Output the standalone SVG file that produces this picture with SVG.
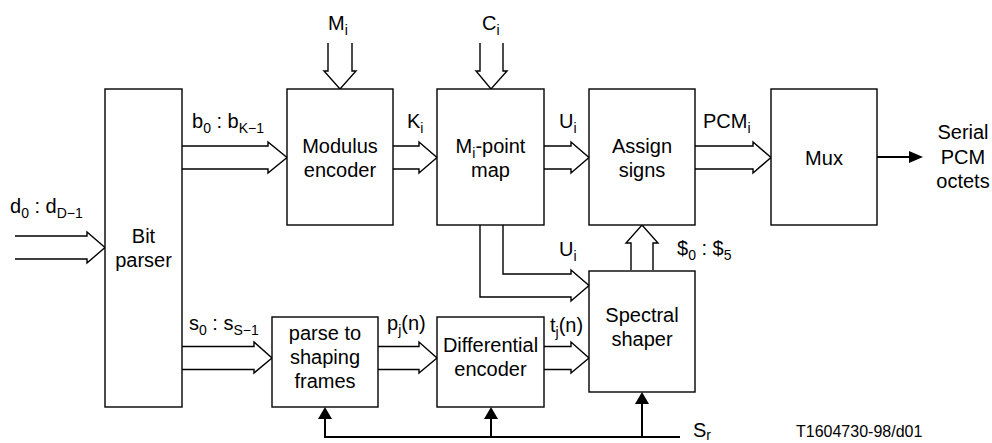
<svg xmlns="http://www.w3.org/2000/svg" width="992" height="443" viewBox="0 0 992 443">
<style>
  .box { fill: #fff; stroke: #000; stroke-width: 1.4; }
  .hol { fill: none; stroke: #000; stroke-width: 1.4; stroke-linejoin: miter; }
  .sol { fill: none; stroke: #000; stroke-width: 2; }
  .head { fill: #000; stroke: none; }
  text { font-family: "Liberation Sans", Arial, sans-serif; font-size: 20px; fill: #000; }
  .c { text-anchor: middle; }
  .sub { font-size: 14px; }
  .small { font-size: 16px; }
</style>
<rect width="992" height="443" fill="#fff"/>

<g id="connectors">
  <!-- input d -->
  <path class="hol" d="M15,236 H87 V232 L105,247.5 L87,263 V259 H15"/>
  <!-- b0 -->
  <path class="hol" d="M182,146 H268 V142 L287,157.5 L268,173 V169 H182"/>
  <!-- K -->
  <path class="hol" d="M393,146 H419 V142 L437,157.5 L419,173 V169 H393"/>
  <!-- U -->
  <path class="hol" d="M544,146 H571 V142 L589,157.5 L571,173 V169 H544"/>
  <!-- PCM -->
  <path class="hol" d="M695,146 H753 V142 L771,157.5 L753,173 V169 H695"/>
  <!-- Mi down -->
  <path class="hol" d="M328,43 V71 H324 L340,89 L356,71 H352 V43"/>
  <!-- Ci down -->
  <path class="hol" d="M480,43 V71 H476 L491,89 L507,71 H503 V43"/>
  <!-- Map to spectral shaper -->
  <path class="hol" d="M503,225 V274 H571 V270 L589,285.5 L571,301 V297 H480 V225"/>
  <!-- spectral shaper up to assign -->
  <path class="hol" d="M631,270 V243 H626 L642,225 L658,243 H653 V270"/>
  <!-- s0 -->
  <path class="hol" d="M182,346.5 H254 V342 L272,358 L254,373 V369.5 H182"/>
  <!-- pj -->
  <path class="hol" d="M378,346.5 H419 V342 L437,358 L419,373 V369.5 H378"/>
  <!-- tj -->
  <path class="hol" d="M544,346.5 H571 V342 L589,358 L571,373 V369.5 H544"/>
  <!-- Mux out -->
  <path class="sol" d="M877,157 H911"/>
  <polygon class="head" points="909,151 923,157 909,163"/>
  <!-- Sr feedback -->
  <path class="sol" d="M680,437 H325 V418"/>
  <polygon class="head" points="318,419 325,407 332,419"/>
  <path class="sol" d="M491,437 V418"/>
  <polygon class="head" points="484,419 491,407 498,419"/>
  <path class="sol" d="M642,437 V403"/>
  <polygon class="head" points="635,404 642,392 649,404"/>
</g>

<g id="bit-parser">
  <rect class="box" x="105" y="89" width="77" height="318"/>
  <text class="c" x="143.5" y="243">Bit</text>
  <text class="c" x="143.5" y="267">parser</text>
</g>
<g id="modulus-encoder">
  <rect class="box" x="287" y="89" width="106" height="136"/>
  <text class="c" x="340" y="153">Modulus</text>
  <text class="c" x="340" y="177">encoder</text>
</g>
<g id="point-map">
  <rect class="box" x="437" y="89" width="107" height="136"/>
  <text class="c" x="490.5" y="153">M<tspan class="sub" dy="5">i</tspan><tspan dy="-5">-point</tspan></text>
  <text class="c" x="490.5" y="177">map</text>
</g>
<g id="assign-signs">
  <rect class="box" x="589" y="89" width="106" height="136"/>
  <text class="c" x="642" y="153">Assign</text>
  <text class="c" x="642" y="177">signs</text>
</g>
<g id="mux">
  <rect class="box" x="771" y="89" width="106" height="136"/>
  <text class="c" x="824" y="164.5">Mux</text>
</g>
<g id="spectral-shaper">
  <rect class="box" x="589" y="271" width="106" height="121"/>
  <text class="c" x="642" y="322">Spectral</text>
  <text class="c" x="642" y="346">shaper</text>
</g>
<g id="parse-frames">
  <rect class="box" x="272" y="317" width="106" height="90"/>
  <text class="c" x="325" y="340">parse to</text>
  <text class="c" x="325" y="364">shaping</text>
  <text class="c" x="325" y="388">frames</text>
</g>
<g id="differential-encoder">
  <rect class="box" x="437" y="317" width="107" height="90"/>
  <text class="c" x="490.5" y="352">Differential</text>
  <text class="c" x="490.5" y="376">encoder</text>
</g>

<g id="labels">
  <text x="328" y="30">M<tspan class="sub" dy="5">i</tspan></text>
  <text x="482" y="30">C<tspan class="sub" dy="5">i</tspan></text>
  <text x="192" y="128">b<tspan class="sub" dy="5">0</tspan><tspan dy="-5"> : b</tspan><tspan class="sub" dy="5">K−1</tspan></text>
  <text x="407" y="128">K<tspan class="sub" dy="5">i</tspan></text>
  <text x="559" y="128">U<tspan class="sub" dy="5">i</tspan></text>
  <text x="703" y="128">PCM<tspan class="sub" dy="5">i</tspan></text>
  <text x="10" y="213">d<tspan class="sub" dy="5">0</tspan><tspan dy="-5"> : d</tspan><tspan class="sub" dy="5">D−1</tspan></text>
  <text x="559" y="256">U<tspan class="sub" dy="5">i</tspan></text>
  <text x="677" y="255">$<tspan class="sub" dy="5">0</tspan><tspan dy="-5"> : $</tspan><tspan class="sub" dy="5">5</tspan></text>
  <text x="189" y="330">s<tspan class="sub" dy="5">0</tspan><tspan dy="-5"> : s</tspan><tspan class="sub" dy="5">S−1</tspan></text>
  <text x="387" y="330">p<tspan class="sub" dy="5">j</tspan><tspan dy="-5">(n)</tspan></text>
  <text x="550" y="332">t<tspan class="sub" dy="5">j</tspan><tspan dy="-5">(n)</tspan></text>
  <text x="693" y="437">S<tspan class="sub" dy="3">r</tspan></text>
  <text class="c" x="963" y="139">Serial</text>
  <text class="c" x="963" y="164">PCM</text>
  <text class="c" x="963" y="188">octets</text>
  <text class="small" x="796" y="437">T1604730-98/d01</text>
</g>
</svg>
